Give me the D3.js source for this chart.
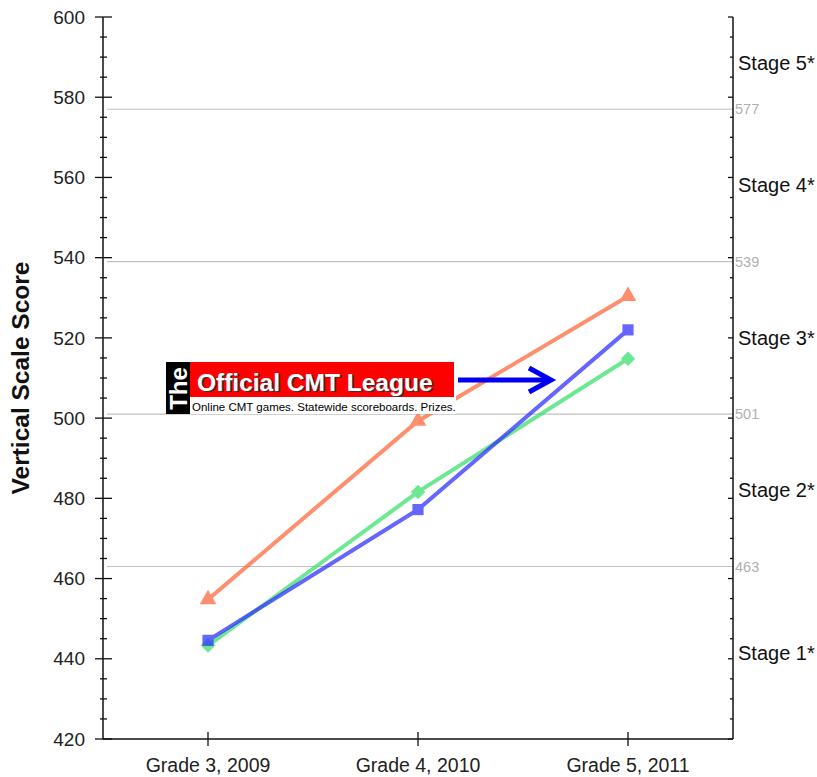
<!DOCTYPE html>
<html><head><meta charset="utf-8">
<script src="https://cdn.jsdelivr.net/npm/d3@7"></script>
<style>body{margin:0;background:#fff;} svg{display:block;font-family:"Liberation Sans",Arial,sans-serif;}</style>
</head><body>
<svg id="c" width="817" height="777"></svg>
<script>
const categories = ["Grade 3, 2009", "Grade 4, 2010", "Grade 5, 2011"];
const orangeSeries = [454.8, 499.3, 530.4];
const blueSeries = [444.6, 477.2, 522.0];
const greenSeries = [443.3, 481.6, 514.8];
const stageCuts = [577, 539, 501, 463];
const stageLabels = ["Stage 5*", "Stage 4*", "Stage 3*", "Stage 2*", "Stage 1*"];
const yTicks = [420, 440, 460, 480, 500, 520, 540, 560, 580, 600];
const yDomain = [420, 600];

const svg = d3.select("#c");
const L = 103, R = 733, T = 17, B = 739;
const x = d3.scaleBand().domain(categories).range([L, R]);
const y = d3.scaleLinear().domain(yDomain).range([B, T]);
const cx = d => x(d) + x.bandwidth() / 2;

// grid lines for stage cuts
svg.append("g").selectAll("line").data(stageCuts).join("line")
  .attr("x1", L + 4).attr("x2", R).attr("y1", d => y(d)).attr("y2", d => y(d))
  .attr("stroke", "#c0c0c0").attr("stroke-width", 1.2);
svg.append("g").selectAll("text").data(stageCuts).join("text")
  .attr("x", R + 2).attr("y", d => y(d)).attr("dy", "0.35em")
  .attr("fill", "#b0b0b0").attr("font-size", 14.5).text(d => d);

// stage labels
const bounds = [yDomain[1], ...stageCuts, yDomain[0]];
svg.append("g").selectAll("text").data(stageLabels).join("text")
  .attr("x", R + 5).attr("y", (d, i) => y((bounds[i] + bounds[i + 1]) / 2)).attr("dy", "0.35em")
  .attr("fill", "#111").attr("font-size", 20).text(d => d);

// left axis
const minor = d3.range(yDomain[0], yDomain[1] + 0.1, 5);
const gl = svg.append("g");
gl.append("line").attr("x1", L).attr("x2", L).attr("y1", T).attr("y2", B).attr("stroke", "#111").attr("stroke-width", 1.5);
gl.selectAll("line.mn").data(minor.filter(v => v % 20 !== 0)).join("line").attr("class", "mn")
  .attr("x1", L - 3).attr("x2", L + 4).attr("y1", d => y(d)).attr("y2", d => y(d)).attr("stroke", "#111").attr("stroke-width", 1.3);
gl.selectAll("line.mj").data(yTicks).join("line").attr("class", "mj")
  .attr("x1", L - 8).attr("x2", L + 9).attr("y1", d => y(d)).attr("y2", d => y(d)).attr("stroke", "#111").attr("stroke-width", 1.3);
gl.selectAll("text").data(yTicks).join("text")
  .attr("x", L - 18).attr("y", d => y(d)).attr("dy", "0.35em").attr("text-anchor", "end")
  .attr("fill", "#222").attr("font-size", 19).text(d => d);

// right axis
const gr = svg.append("g");
gr.append("line").attr("x1", R).attr("x2", R).attr("y1", T).attr("y2", B).attr("stroke", "#111").attr("stroke-width", 1.5);
gr.selectAll("line.rt").data(minor).join("line").attr("class", "rt")
  .attr("x1", d => R - (d % 20 === 0 ? 5 : 3)).attr("x2", R).attr("y1", d => y(d)).attr("y2", d => y(d)).attr("stroke", "#111").attr("stroke-width", 1.3);

// bottom axis
const gb = svg.append("g");
gb.append("line").attr("x1", L).attr("x2", R).attr("y1", B).attr("y2", B).attr("stroke", "#111").attr("stroke-width", 1.5);
gb.selectAll("line.t").data(categories).join("line").attr("class", "t")
  .attr("x1", d => cx(d)).attr("x2", d => cx(d)).attr("y1", B - 7).attr("y2", B + 7).attr("stroke", "#111").attr("stroke-width", 1.3);
gb.selectAll("text").data(categories).join("text")
  .attr("x", d => cx(d)).attr("y", B + 33).attr("text-anchor", "middle")
  .attr("fill", "#222").attr("font-size", 19.5).text(d => d);

// y title
svg.append("text").attr("transform", `translate(29,${(T + B) / 2}) rotate(-90)`)
  .attr("text-anchor", "middle").attr("font-size", 24.5).attr("font-weight", "bold").attr("fill", "#111")
  .text("Vertical Scale Score");

// series
const series = [
  {vals: orangeSeries, color: "rgb(255,105,60)", sym: d3.symbolTriangle, size: 120, rot: 0},
  {vals: greenSeries, color: "rgb(60,225,110)", sym: d3.symbolSquare, size: 105, rot: 45},
  {vals: blueSeries, color: "rgb(50,50,255)", sym: d3.symbolSquare, size: 125, rot: 0}
];
const line = d3.line().x((d, i) => cx(categories[i])).y(d => y(d));
series.forEach(s => {
  const g = svg.append("g").attr("opacity", 0.75);
  g.append("path").attr("d", line(s.vals)).attr("fill", "none").attr("stroke", s.color).attr("stroke-width", 4);
  g.selectAll("path.m").data(s.vals).join("path").attr("class", "m")
    .attr("transform", (d, i) => `translate(${cx(categories[i])},${y(d)}) rotate(${s.rot})`)
    .attr("d", d3.symbol(s.sym, s.size)).attr("fill", s.color);
});

// logo annotation
const lg = svg.append("g");
lg.append("rect").attr("x", 166).attr("y", 362).attr("width", 290).attr("height", 52).attr("fill", "#fff");
lg.append("rect").attr("x", 166).attr("y", 362).attr("width", 24).attr("height", 52).attr("fill", "#000");
lg.append("rect").attr("x", 190).attr("y", 362).attr("width", 264).attr("height", 35).attr("fill", "#f00");
lg.append("text").attr("transform", "translate(187,388.5) rotate(-90)").attr("text-anchor", "middle")
  .attr("fill", "#fff").attr("font-weight", "bold").attr("font-size", 24).text("The");
lg.append("text").attr("x", 198.5).attr("y", 392).attr("fill", "#333").attr("font-weight", "bold").attr("font-size", 24.5).text("Official CMT League");
lg.append("text").attr("x", 197).attr("y", 390.5).attr("fill", "#fff").attr("font-weight", "bold").attr("font-size", 24.5).text("Official CMT League");
lg.append("text").attr("x", 445).attr("y", 401).attr("fill", "#fff").attr("font-size", 4).text("TM");
lg.append("text").attr("x", 192).attr("y", 411).attr("fill", "#000").attr("font-size", 11.5).text("Online CMT games. Statewide scoreboards. Prizes.");
// arrow
lg.append("line").attr("x1", 458).attr("x2", 550).attr("y1", 380).attr("y2", 380).attr("stroke", "#0000f0").attr("stroke-width", 5);
lg.append("path").attr("d", "M529,368 L551,380 L529,392").attr("fill", "none").attr("stroke", "#0000f0").attr("stroke-width", 5).attr("stroke-linejoin", "miter");
</script>
</body></html>
